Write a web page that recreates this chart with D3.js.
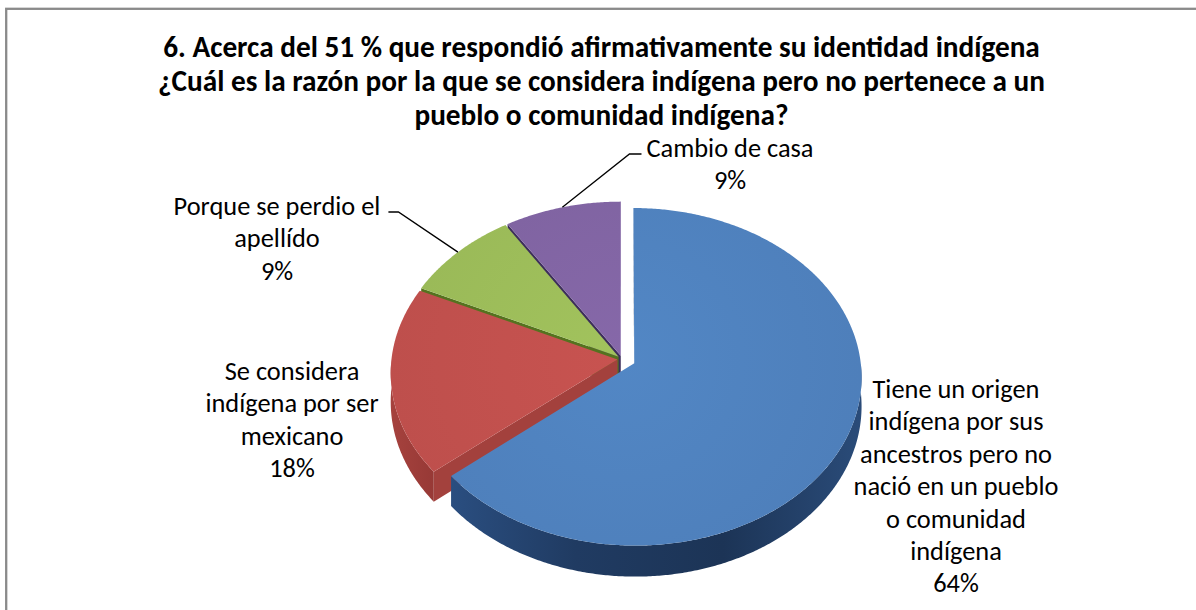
<!DOCTYPE html>
<html>
<head>
<meta charset="utf-8">
<script src="https://cdn.jsdelivr.net/npm/d3@7"></script>
<style>
  html, body { margin: 0; padding: 0; background: #ffffff; }
  svg { display: block; }
</style>
</head>
<body>
<svg id="chart" width="1196" height="610"></svg>
<script>
// ---- data ----
const titleLines = [
  "6. Acerca del 51 % que respondió afirmativamente su identidad indígena",
  "¿Cuál es la razón por la que se considera indígena pero no pertenece a un",
  "pueblo o comunidad indígena?"
];
const categories = [
  "Tiene un origen\nindígena por sus\nancestros pero no\nnació en un pueblo\no comunidad\nindígena",
  "Se considera\nindígena por ser\nmexicano",
  "Porque se perdio el\napellído",
  "Cambio de casa"
];
const values = [64, 18, 9, 9];

// ---- styling / layout ----
const topColors  = ["#4F81BD", "#C0504D", "#9BBB59", "#8064A2"];
const wallColors = ["#22406A", "#A3413D", "#55721F", "#3D2E5B"];
const explode    = [0.06, 0.02, 0.02, 0.02];
// label anchor: centre x, first baseline y
const labelPos   = [[956, 398], [292, 380], [277, 215], [730, 157]];
const leaderSide = [null, null, "right", "left"];
const FONT = "Carlito, Calibri, Lato, 'Open Sans', sans-serif";

const W = 1196, H = 610;
const CX = 622, CY = 359;      // pie centre on screen
const RX = 226, RY = 167;      // projected radii
const PERSP = 0.08;            // perspective strength (front larger than back)
const DEPTH = 28.5;            // pie thickness

const svg = d3.select("#chart");

// chart frame
svg.append("rect")
  .attr("x", 6.2).attr("y", 8.8)
  .attr("width", W + 20).attr("height", H + 20)
  .attr("fill", "#ffffff")
  .attr("stroke", "#8a8a8a").attr("stroke-width", 2.3);

// ---- projection of the pie disc (u right, v toward viewer, h downwards) ----
function project(u, v, h) {
  const d = 1 - PERSP * v;
  return [CX + RX * u / d, CY + (RY * v + h) / d];
}

const arcs = d3.pie().sort(null).value(d => d)(values).map((a, i) => {
  const mid = (a.startAngle + a.endAngle) / 2;
  return {
    i, a0: a.startAngle, a1: a.endAngle, mid,
    ou: explode[i] * Math.sin(mid),
    ov: -explode[i] * Math.cos(mid)
  };
});

function rimPoint(s, phi, h) {
  return project(s.ou + Math.sin(phi), s.ov - Math.cos(phi), h);
}
function apex(s, h) { return project(s.ou, s.ov, h); }
function arcPoints(s, from, to, h) {
  const n = Math.max(2, Math.ceil(Math.abs(to - from) / (Math.PI / 360)));
  return d3.range(n + 1).map(k => rimPoint(s, from + (to - from) * k / n, h));
}

const line = d3.line();
const defs = svg.append("defs");

// gradients
const blueWall = defs.append("linearGradient").attr("id", "wall0")
  .attr("gradientUnits", "userSpaceOnUse")
  .attr("x1", 450).attr("y1", 0).attr("x2", 870).attr("y2", 0);
[[0, "#2A4E80"], [0.3, "#203B62"], [0.65, "#1C3456"], [1, "#2B4D7B"]]
  .forEach(([o, c]) => blueWall.append("stop").attr("offset", o).attr("stop-color", c));
const redWall = defs.append("linearGradient").attr("id", "wall1")
  .attr("gradientUnits", "userSpaceOnUse")
  .attr("x1", 390).attr("y1", 0).attr("x2", 460).attr("y2", 0);
[[0, "#A6423E"], [1, "#8E3431"]]
  .forEach(([o, c]) => redWall.append("stop").attr("offset", o).attr("stop-color", c));
topColors.forEach((c, i) => {
  const g = defs.append("radialGradient").attr("id", "top" + i)
    .attr("gradientUnits", "userSpaceOnUse")
    .attr("cx", CX).attr("cy", CY).attr("r", 300);
  g.append("stop").attr("offset", 0).attr("stop-color", d3.color(c).brighter(0.12));
  g.append("stop").attr("offset", 1).attr("stop-color", d3.color(c).darker(0.08));
});

// ---- radial (cut) walls ----
const radialWalls = [];
arcs.forEach(s => {
  [["start", s.a0, s.a0 - Math.PI / 2], ["end", s.a1, s.a1 + Math.PI / 2]].forEach(([k, ang, nAng]) => {
    const nu = Math.sin(nAng), nv = -Math.cos(nAng);
    const mu = s.ou + 0.5 * Math.sin(ang), mv = s.ov - 0.5 * Math.cos(ang);
    const facing = nu * (-mu) + nv * (1 / PERSP - mv);
    if (facing > 0.001) {
      radialWalls.push({
        s, depth: mv,
        pts: [apex(s, 0), rimPoint(s, ang, 0), rimPoint(s, ang, DEPTH), apex(s, DEPTH)]
      });
    }
  });
});
radialWalls.sort((a, b) => a.depth - b.depth);
svg.append("g").selectAll("path").data(radialWalls).join("path")
  .attr("d", d => line(d.pts) + "Z")
  .attr("fill", d => d.s.i === 0 ? "url(#wall0)" : wallColors[d.s.i]);

// ---- outer curved walls (front half only) ----
const outerWalls = arcs.map(s => {
  const lo = Math.max(s.a0, Math.PI / 2), hi = Math.min(s.a1, 3 * Math.PI / 2);
  if (hi <= lo) return null;
  const pts = arcPoints(s, lo, hi, 0).concat(arcPoints(s, hi, lo, DEPTH));
  return { s, pts };
}).filter(Boolean);
svg.append("g").selectAll("path").data(outerWalls).join("path")
  .attr("d", d => line(d.pts) + "Z")
  .attr("fill", d => d.s.i <= 1 ? `url(#wall${d.s.i})` : wallColors[d.s.i]);

// ---- top faces ----
svg.append("g").selectAll("path").data(arcs).join("path")
  .attr("d", s => line([apex(s, 0)].concat(arcPoints(s, s.a0, s.a1, 0))) + "Z")
  .attr("fill", s => `url(#top${s.i})`);

// ---- font sizing helper ----
function fitSize(text, weight, target) {
  const t = svg.append("text").attr("font-family", FONT).attr("font-weight", weight)
    .attr("font-size", 20).text(text);
  const w = t.node().getComputedTextLength();
  t.remove();
  return 20 * target / w;
}

// ---- title ----
const titleSize = fitSize(titleLines[0], "bold", 877);
svg.append("g").selectAll("text").data(titleLines).join("text")
  .attr("x", 601.5).attr("y", (d, i) => 57 + i * 34)
  .attr("text-anchor", "middle")
  .attr("font-family", FONT).attr("font-weight", "bold")
  .attr("font-size", titleSize).attr("fill", "#000")
  .text(d => d);

// ---- data labels ----
const labelSize = fitSize("nació en un pueblo", "normal", 205);
const LH = 32.4;
const labels = svg.append("g");
arcs.forEach(s => {
  const lines = categories[s.i].split("\n").concat([values[s.i] + "%"]);
  const [lx, ly] = labelPos[s.i];
  const g = labels.append("g");
  const texts = g.selectAll("text").data(lines).join("text")
    .attr("x", lx).attr("y", (d, k) => ly + k * LH)
    .attr("text-anchor", "middle")
    .attr("font-family", FONT).attr("font-size", labelSize).attr("fill", "#000")
    .text(d => d);

  // leader line from the first text line to the middle of the slice rim
  const side = leaderSide[s.i];
  if (side) {
    const w0 = texts.nodes()[0].getComputedTextLength();
    const y0 = ly - 3;
    const x0 = side === "right" ? lx + w0 / 2 + 8 : lx - w0 / 2 - 5;
    const x1 = side === "right" ? x0 + 10 : x0 - 12;
    const end = rimPoint(s, s.mid, 0);
    g.append("path")
      .attr("d", line([[x0, y0], [x1, y0], end]))
      .attr("fill", "none").attr("stroke", "#000").attr("stroke-width", 1.3);
  }
});
</script>
</body>
</html>
